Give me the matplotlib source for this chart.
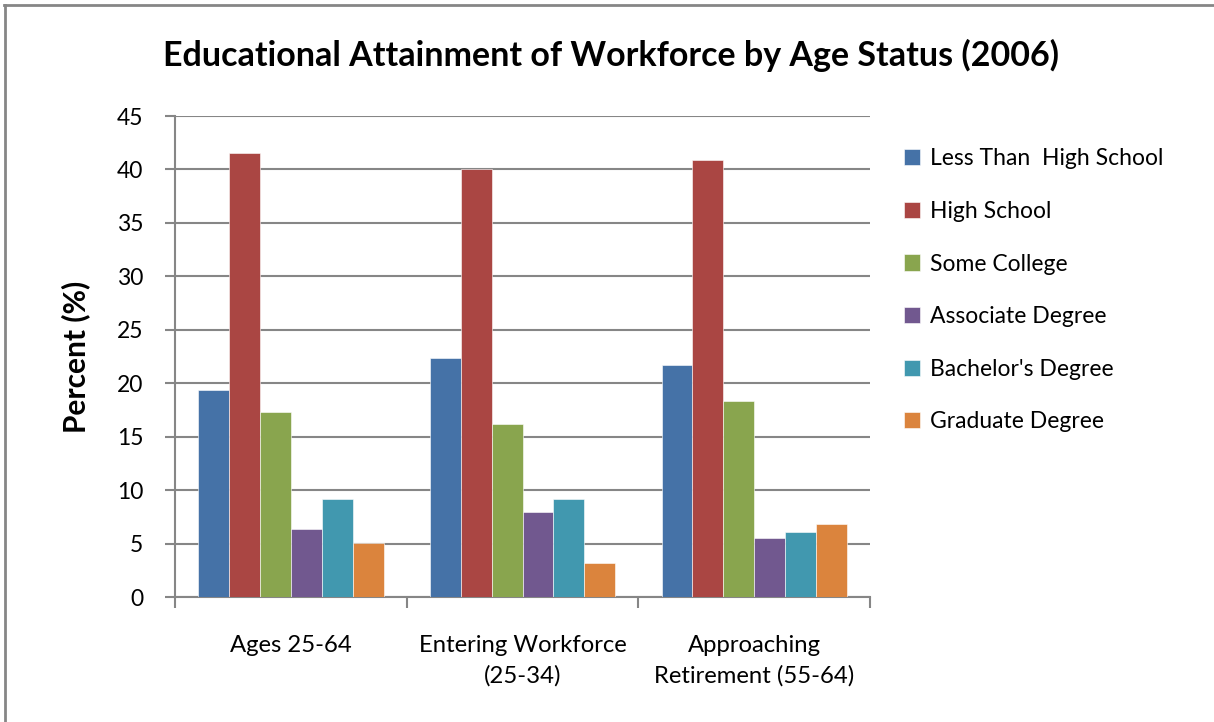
import matplotlib.pyplot as plt
import numpy as np
from matplotlib.lines import Line2D


CATEGORIES = ["Ages 25-64", "Entering Workforce\n(25-34)", "Approaching\nRetirement (55-64)"]

SERIES_NAMES = [
    "Less Than  High School",
    "High School",
    "Some College",
    "Associate Degree",
    "Bachelor's Degree",
    "Graduate Degree",
]

LESS_THAN_HS = [19.4, 22.4, 21.7]
HIGH_SCHOOL = [41.5, 40.0, 40.9]
SOME_COLLEGE = [17.3, 16.2, 18.3]
ASSOCIATE = [6.4, 8.0, 5.5]
BACHELORS = [9.2, 9.2, 6.1]
GRADUATE = [5.1, 3.2, 6.8]

Y_TICKS = [0, 5, 10, 15, 20, 25, 30, 35, 40, 45]

SERIES_COLORS = ["#4572A7", "#AA4643", "#89A54E", "#71588F", "#4198AF", "#DB843D"]

GRID_COLOR = "#868686"
FONT = ["Lato", "DejaVu Sans"]

plt.rcParams["font.family"] = FONT


def main():
    series = [LESS_THAN_HS, HIGH_SCHOOL, SOME_COLLEGE, ASSOCIATE, BACHELORS, GRADUATE]

    fig = plt.figure(figsize=(12.14, 7.22), dpi=100)
    ax = fig.add_axes([0.1442, 0.1731, 0.5725, 0.6662])

    # 150% gap width: six bars plus 1.5 bar widths of spacing per category
    bar_w = 1 / 7.5
    x = np.arange(len(CATEGORIES))
    offsets = (np.arange(len(series)) - (len(series) - 1) / 2) * bar_w

    for values, name, color, off in zip(series, SERIES_NAMES, SERIES_COLORS, offsets):
        ax.bar(x + off, values, width=bar_w, color=color, label=name,
               edgecolor="white", linewidth=0.4, zorder=3)

    ax.set_xlim(-0.5, len(CATEGORIES) - 0.5)
    ax.set_ylim(0, 45)
    ax.set_yticks(Y_TICKS)
    ax.tick_params(axis="y", labelsize=16.5, length=7, width=1.5, color=GRID_COLOR,
                   pad=16, labelcolor="black")

    # category labels sit between boundary ticks
    ax.set_xticks(x)
    ax.set_xticklabels(CATEGORIES, fontsize=17.2, linespacing=1.55)
    ax.tick_params(axis="x", length=0, pad=27)
    ax.set_xticks(np.arange(len(CATEGORIES) + 1) - 0.5, minor=True)
    ax.tick_params(axis="x", which="minor", length=8, width=1.5, color=GRID_COLOR)

    ax.grid(axis="y", color=GRID_COLOR, linewidth=1.5, zorder=0)
    ax.set_axisbelow(True)
    for side in ["top", "right"]:
        ax.spines[side].set_visible(False)
    for side in ["left", "bottom"]:
        ax.spines[side].set_color(GRID_COLOR)
        ax.spines[side].set_linewidth(1.5)

    ax.set_ylabel("Percent (%)", fontsize=21.5, fontweight="bold", labelpad=19)

    fig.text(0.503, 0.923, "Educational Attainment of Workforce by Age Status (2006)",
             ha="center", va="center", fontsize=24.5, fontweight="bold")

    ax.legend(loc="upper left", bbox_to_anchor=(1.035, 0.952), frameon=False,
              fontsize=16.5, handlelength=0.7, handleheight=0.7,
              handletextpad=0.45, labelspacing=1.38, borderaxespad=0)

    # chart area border along the top and left edges
    fig.add_artist(Line2D([4 / 1214, 1.0], [1 - 4.5 / 722, 1 - 4.5 / 722],
                          color=GRID_COLOR, linewidth=2))
    fig.add_artist(Line2D([4.5 / 1214, 4.5 / 1214], [0.0, 1 - 4.5 / 722],
                          color=GRID_COLOR, linewidth=2))

    fig.savefig("out.png", dpi=100)
    plt.close(fig)


if __name__ == "__main__":
    main()
